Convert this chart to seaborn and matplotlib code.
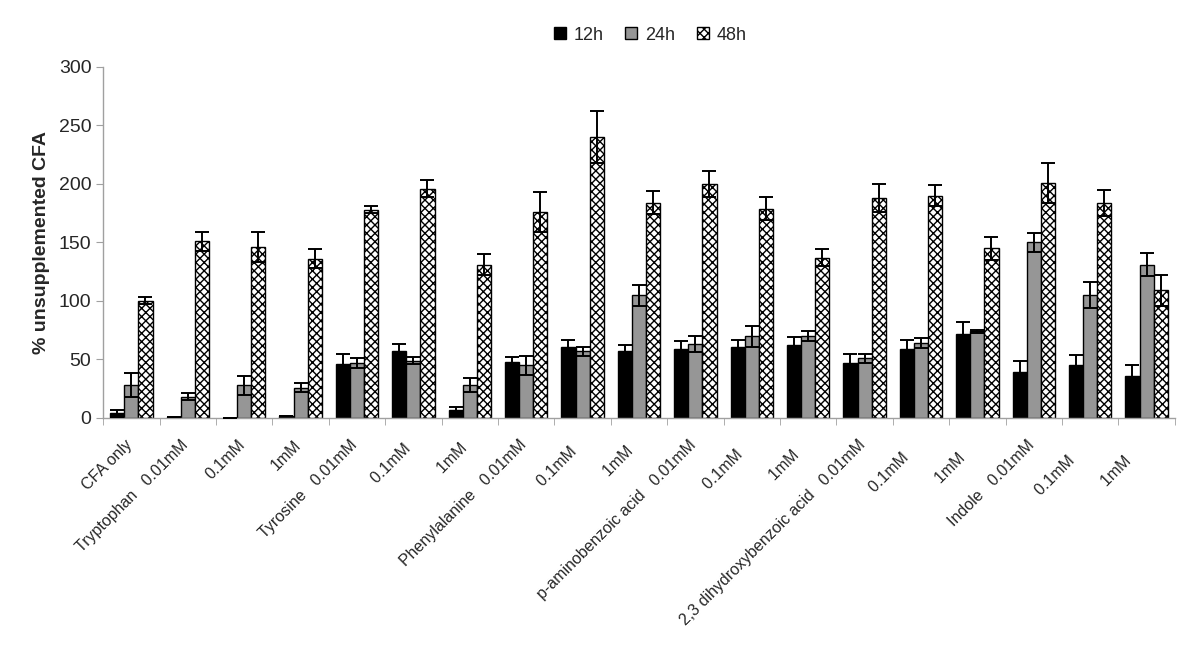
import matplotlib
matplotlib.use("Agg")
import matplotlib.pyplot as plt
import matplotlib.transforms as mtransforms
import numpy as np
import pandas as pd
import seaborn as sns
from matplotlib.patches import Patch

# category labels (compound + concentration)
categories = [
    "CFA only",
    "Tryptophan   0.01mM", "0.1mM", "1mM",
    "Tyrosine   0.01mM", "0.1mM ", "1mM ",
    "Phenylalanine   0.01mM", "0.1mM  ", "1mM  ",
    "p-aminobenzoic acid   0.01mM", "0.1mM   ", "1mM   ",
    "2,3 dihydroxybenzoic acid   0.01mM", "0.1mM    ", "1mM    ",
    "Indole   0.01mM", "0.1mM     ", "1mM     ",
]
times = ["12h", "24h", "48h"]

vals_12h = [4, 1, 0, 2, 46, 57, 7, 48, 61, 57, 59, 61, 62, 47, 59, 72, 39, 45, 36]
vals_24h = [28, 18, 28, 26, 47, 49, 28, 45, 57, 105, 63, 70, 70, 51, 64, 74, 150, 105, 131]
vals_48h = [100, 151, 146, 136, 178, 196, 131, 176, 240, 184, 200, 179, 137, 188, 190, 145, 201, 184, 109]

err_12h = [3, 0, 0, 0, 9, 6, 2, 4, 6, 5, 7, 6, 7, 8, 8, 10, 10, 9, 9]
err_24h = [10, 3, 8, 4, 4, 3, 6, 8, 4, 9, 7, 9, 4, 4, 4, 1, 8, 11, 10]
err_48h = [3, 8, 13, 8, 3, 7, 9, 17, 22, 10, 11, 10, 7, 12, 9, 10, 17, 11, 13]

colors = ["#000000", "#969696", "#ffffff"]

df = pd.DataFrame({
    "label": categories * 3,
    "time": np.repeat(times, len(categories)),
    "value": vals_12h + vals_24h + vals_48h,
})
errs = [err_12h, err_24h, err_48h]

sns.set_style("white")
plt.rcParams["font.family"] = ["Liberation Sans", "DejaVu Sans"]
plt.rcParams["hatch.linewidth"] = 1.0

fig = plt.figure(figsize=(12, 6.5), dpi=100)
ax = fig.add_axes([0.086, 0.357, 0.893, 0.54])

sns.barplot(data=df, x="label", y="value", hue="time", order=categories,
            hue_order=times, palette=colors, width=0.75, errorbar=None,
            edgecolor="black", linewidth=1.0, legend=False, ax=ax)

for container, e, t in zip(ax.containers, errs, times):
    xs = [p.get_x() + p.get_width() / 2 for p in container.patches]
    hs = [p.get_height() for p in container.patches]
    if t == "48h":
        for p in container.patches:
            p.set_hatch("xxxx")
    ax.errorbar(xs, hs, yerr=e, fmt="none", ecolor="black", elinewidth=1.4,
                capsize=5, capthick=1.4, zorder=5)

ax.set_ylim(0, 300)
ax.set_yticks(range(0, 301, 50))
ax.set_xlim(-0.5, len(categories) - 0.5)
ax.set_xlabel("")
ax.set_ylabel("% unsupplemented CFA", fontsize=14, fontweight="bold", labelpad=6)
ax.tick_params(axis="y", labelsize=14, length=5, color="#a0a0a0", left=True)
ax.set_xticks(range(len(categories)))
ax.set_xticklabels(categories, rotation=45, ha="right", rotation_mode="anchor",
                   fontsize=11.5)
ax.tick_params(axis="x", which="major", length=0, pad=14)
offset = mtransforms.ScaledTranslation(-7 / 100, 0, fig.dpi_scale_trans)
for lbl in ax.get_xticklabels():
    lbl.set_transform(lbl.get_transform() + offset)
ax.set_xticks(np.arange(-0.5, len(categories), 1.0), minor=True)
ax.tick_params(axis="x", which="minor", length=5, color="#a0a0a0", bottom=True)

for s in ["top", "right"]:
    ax.spines[s].set_visible(False)
for s in ["left", "bottom"]:
    ax.spines[s].set_color("#a0a0a0")
    ax.spines[s].set_linewidth(1.0)

handles = [Patch(facecolor=c, edgecolor="black", hatch=("xxxx" if t == "48h" else None), label=t)
           for c, t in zip(colors, times)]
fig.legend(handles=handles, loc="center", bbox_to_anchor=(0.542, 0.946), ncol=3,
           frameon=False, fontsize=13, handlelength=0.65, handleheight=0.65,
           handletextpad=0.45, columnspacing=1.2)

fig.savefig("out.png", dpi=100)
